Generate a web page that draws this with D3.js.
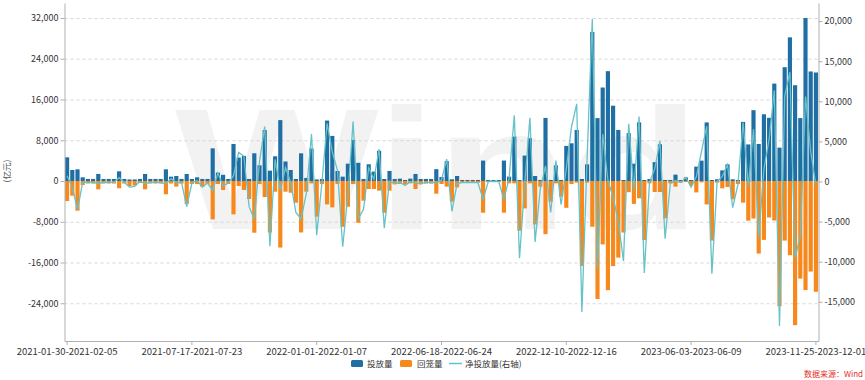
<!DOCTYPE html>
<html><head><meta charset="utf-8">
<script src="https://cdn.jsdelivr.net/npm/d3@7"></script>
<style>
body{margin:0;background:#fff;}
svg{display:block;font-family:"Noto Sans CJK SC","Noto Sans",sans-serif;}
</style></head><body>
<svg id="chart" width="865" height="380"></svg>
<script>
// 投放量 (亿元), weekly
const release = [
4650,2160,2290,720,400,400,1380,400,400,400,1900,400,300,300,400,1380,400,400,400,2290,850,980,400,1380,
400,720,400,400,6410,1640,1210,400,7270,4600,4920,400,5440,3080,10000,2030,4850,11950,3830,2160,400,5430,600,6380,
300,400,11860,8850,1970,850,3400,8060,3570,400,3280,1840,5930,400,1970,400,460,200,460,1380,400,400,400,2320,
780,3900,330,980,200,200,200,200,4010,200,200,200,4010,850,8710,200,4990,8390,980,200,12380,200,3060,200,
6880,7400,10010,390,3270,29230,12350,18350,21560,14780,10020,200,9390,3400,11500,200,390,3700,7210,200,200,1245,200,700,
200,2820,4000,11500,200,330,2080,3270,330,200,11600,7180,13900,7270,13100,12400,19120,6550,22340,28200,18800,12350,32000,21500,21300
];
// 回笼量 (亿元), plotted below zero
const withdrawal = [
-3930,-2880,-5830,-790,-500,-500,-1630,-500,-500,-500,-1430,-500,-1000,-900,-400,-1630,-500,-500,-500,-2610,-500,-1110,-500,-4510,
-590,-590,-1110,-590,-7530,-590,-1770,-590,-6550,-980,-1770,-3540,-10150,-590,-3150,-10100,-2100,-13070,-2100,-2300,-4260,-10100,-2100,-460,
-7000,-590,-4600,-5180,-590,-8990,-5050,-590,-8200,-3870,-1570,-1570,-1900,-6230,-1900,-660,-590,-700,-460,-1570,-660,-520,-520,-2490,
-590,-1110,-4070,-1250,-330,-330,-330,-330,-6230,-200,-200,-200,-6230,-460,-460,-9770,-5380,-460,-8530,-1110,-10430,-4070,-460,-3080,
-5270,-590,-330,-16660,-330,-8980,-23160,-12450,-21430,-16710,-15030,-10120,-2200,-4500,-3400,-11600,-460,-2160,-2160,-7340,-460,-1110,-330,-200,
-900,-2240,-260,-4600,-11700,-330,-1440,-1180,-3600,-590,-4250,-7790,-7370,-14250,-11560,-7160,-7760,-24570,-11700,-14570,-28300,-19160,-21400,-17780,-21750
];
// 净投放量 (亿元, 右轴)
const net = [
720,-720,-3540,-70,-100,-100,-250,-100,-100,-100,470,-100,-700,-600,0,-250,-100,-100,-100,-320,350,-130,-100,-3130,
-190,130,-710,-190,-1120,1050,-560,-190,720,3620,3150,-3140,-4710,2490,6850,-8070,2750,-1120,1730,-140,-3860,-4670,-1500,5920,
-6700,-190,7260,3670,1380,-8140,-1650,7470,-4630,-3470,1710,270,4030,-5830,70,-260,-130,-500,0,-190,-260,-120,-120,-170,
190,2790,-3740,-270,-130,-130,-130,-130,-2220,0,0,0,-2220,390,8250,-9570,-390,7930,-7550,-910,1950,-3870,2600,-2880,
1610,6810,9680,-16270,2940,20250,-10810,5900,130,-1930,-5010,-9920,7190,-1100,8100,-11400,-70,1540,5050,-7140,-260,135,-130,500,
-700,580,3740,6900,-11500,0,640,2090,-3270,-390,7350,-610,6530,-6980,1540,5240,11360,-18020,10640,13630,-9500,-6810,10600,3720,-450
];
const leftTicks = [-24000,-16000,-8000,0,8000,16000,24000,32000];
const rightTicks = [-15000,-10000,-5000,0,5000,10000,15000,20000];
const xTickIndex = [0,24,48,72,96,120,144];
const xTickLabels = ["2021-01-30-2021-02-05","2021-07-17-2021-07-23","2022-01-01-2022-01-07",
  "2022-06-18-2022-06-24","2022-12-10-2022-12-16","2023-06-03-2023-06-09","2023-11-25-2023-12-01"];
const seriesNames = ["投放量","回笼量","净投放量(右轴)"];
const colors = ["#1f6fa5","#f7891c","#64c2c8"];
const unitLabel = "(亿元)";
const sourceLabel = "数据来源：Wind";

const categories = release.map((d,i)=>i);
const svg = d3.select("#chart");
const L=64.5, R=818.5, T=3, B=341;

const x = d3.scaleBand().domain(categories).range([L,R]).paddingInner(0.2).paddingOuter(0.1);
const yL = d3.scaleLinear().domain([-31410,34940]).range([B,T]);
const yR = d3.scaleLinear().domain([-19888,22257]).range([B,T]);
const fmt = d => d3.format(",")(d).replace("\u2212","-");

// watermark
svg.append("text").attr("x",175).attr("y",229)
  .attr("font-family","Liberation Sans, Arial, sans-serif").attr("font-weight","bold")
  .attr("font-size",172).attr("fill","#f2f2f2")
  .attr("textLength",525).attr("lengthAdjust","spacingAndGlyphs").text("Wind");

// grid
svg.append("g").selectAll("line").data(leftTicks).join("line")
  .attr("x1",L).attr("x2",R).attr("y1",d=>yL(d)+0.5).attr("y2",d=>yL(d)+0.5)
  .attr("stroke","#d6d6d6").attr("stroke-dasharray","3,3").attr("stroke-width",1);

// bars
svg.append("g").selectAll("rect").data(release).join("rect")
  .attr("x",(d,i)=>x(i)).attr("width",x.bandwidth())
  .attr("y",d=>yL(d)).attr("height",d=>yL(0)-yL(d)).attr("fill",colors[0]);
svg.append("g").selectAll("rect").data(withdrawal).join("rect")
  .attr("x",(d,i)=>x(i)).attr("width",x.bandwidth())
  .attr("y",yL(0)).attr("height",d=>yL(d)-yL(0)).attr("fill",colors[1]);

// net line
svg.append("path").datum(net)
  .attr("d",d3.line().x((d,i)=>x(i)+x.bandwidth()/2).y(d=>yR(d)))
  .attr("fill","none").attr("stroke",colors[2]).attr("stroke-width",1.3);

// axes
function styleAxis(g){
  g.selectAll(".domain").attr("stroke","#b0b0b0");
  g.selectAll(".tick line").attr("stroke","#b0b0b0");
  g.selectAll("text").attr("fill","#333").attr("font-family","Noto Sans CJK SC, sans-serif");
}
svg.append("g").attr("transform",`translate(${L},0)`)
  .call(d3.axisLeft(yL).tickValues(leftTicks).tickFormat(fmt).tickSize(4).tickSizeOuter(0).tickPadding(2))
  .call(g=>g.attr("font-size",9)).call(styleAxis);
svg.append("g").attr("transform",`translate(${R},0)`)
  .call(d3.axisRight(yR).tickValues(rightTicks).tickFormat(fmt).tickSize(4).tickSizeOuter(0).tickPadding(2))
  .call(g=>g.attr("font-size",9)).call(styleAxis);
svg.append("g").attr("transform",`translate(0,${B})`)
  .call(d3.axisBottom(x).tickValues(xTickIndex).tickFormat(i=>xTickLabels[xTickIndex.indexOf(i)]).tickSize(4).tickSizeOuter(0).tickPadding(3))
  .call(g=>g.attr("font-size",9.5)).call(styleAxis);

// unit label
svg.append("text").attr("transform","translate(10,171) rotate(-90)")
  .attr("text-anchor","middle").attr("font-size",8.5).attr("fill","#555").text(unitLabel);

// legend
const lg = svg.append("g").attr("font-size",8.5).attr("fill","#333");
lg.append("rect").attr("x",351).attr("y",360).attr("width",12).attr("height",7).attr("rx",1.5).attr("fill",colors[0]);
lg.append("text").attr("x",367).attr("y",366.5).text(seriesNames[0]);
lg.append("rect").attr("x",400).attr("y",360).attr("width",12).attr("height",7).attr("rx",1.5).attr("fill",colors[1]);
lg.append("text").attr("x",417).attr("y",366.5).text(seriesNames[1]);
lg.append("line").attr("x1",449).attr("x2",462).attr("y1",363.5).attr("y2",363.5).attr("stroke",colors[2]).attr("stroke-width",1.5);
lg.append("text").attr("x",465).attr("y",366.5).text(seriesNames[2]);

// source
svg.append("text").attr("x",863).attr("y",377).attr("text-anchor","end")
  .attr("font-size",8).attr("fill","#e0302b").text(sourceLabel);
</script>
</body></html>
